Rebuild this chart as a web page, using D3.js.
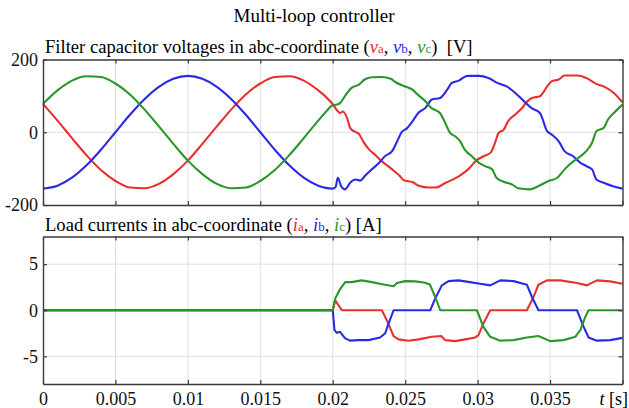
<!DOCTYPE html>
<html>
<head>
<meta charset="utf-8">
<script src="https://cdn.jsdelivr.net/npm/d3@7"></script>
<style>
  body { margin: 0; background: #fff; }
  text { font-family: "Liberation Serif", "DejaVu Serif", serif; }
</style>
</head>
<body>
<script>
// Time ticks shared by both panels
const timeTicks = [0, 0.005, 0.01, 0.015, 0.02, 0.025, 0.03, 0.035, 0.04]
const voltTicks = [-200, 0, 200]
const currTicks = [-5, 0, 5]

// Filter capacitor voltages [t, v]
const vaPts = [[0,78],[0.001,32],[0.002,-16],[0.003,-63],[0.004,-104],[0.005,-134],[0.006,-152],[0.007,-154],
  [0.008,-142],[0.009,-115],[0.010,-78],[0.011,-32],[0.012,16],[0.013,63],[0.014,104],[0.015,134],[0.016,152],
  [0.017,154],[0.018,142],[0.019,115],[0.0195,98],[0.02,77],[0.0203,60],[0.0205,53],[0.0207,57],[0.021,38],
  [0.0212,12],[0.02155,1],[0.0218,-4],[0.0221,-25],[0.0225,-47],[0.0229,-61],[0.0234,-80],[0.0241,-102],
  [0.02465,-121],[0.0249,-132],[0.0255,-137],[0.026,-148],[0.0266,-152],[0.0271,-152],[0.0278,-139],
  [0.02845,-127],[0.0289,-116],[0.0294,-100],[0.0299,-78],[0.0304,-66],[0.0309,-56],[0.0312,-29],[0.03145,-2],
  [0.0318,7],[0.0321,30],[0.0326,49],[0.0331,68],[0.0334,84],[0.03375,94],[0.0343,99],[0.0348,126],[0.0351,140],
  [0.0356,145],[0.036,156],[0.0369,156],[0.0375,149],[0.0382,133],[0.0388,124],[0.0394,108],[0.04,82]]

const vbPts = [[0,-155],[0.001,-147],[0.002,-125],[0.003,-91],[0.004,-48],[0.005,0],[0.006,48],[0.007,91],
  [0.008,125],[0.009,147],[0.010,155],[0.011,147],[0.012,125],[0.013,91],[0.014,48],[0.015,0],[0.016,-48],
  [0.017,-91],[0.018,-125],[0.019,-147],[0.0195,-153],[0.02,-155],[0.0202,-150],[0.02035,-125],[0.0206,-150],
  [0.02086,-157],[0.0212,-139],[0.02155,-130],[0.0219,-133],[0.0222,-121],[0.0227,-102],[0.0232,-84],
  [0.0236,-66],[0.0241,-52],[0.0244,-29],[0.02477,1],[0.0251,10],[0.0255,30],[0.0259,53],[0.0264,67],
  [0.02684,90],[0.0274,94],[0.0279,117],[0.0282,135],[0.0287,142],[0.0293,155],[0.0301,155],[0.03075,149],
  [0.0314,135],[0.032,126],[0.0326,108],[0.0332,85],[0.0337,67],[0.0343,53],[0.0348,3],[0.0351,-6],
  [0.0356,-25],[0.036,-52],[0.0366,-66],[0.0371,-84],[0.0375,-93],[0.0379,-102],[0.0382,-130],[0.0387,-139],
  [0.0393,-148],[0.04,-155]]

const vcPts = [[0,78],[0.001,115],[0.002,142],[0.003,154],[0.004,152],[0.005,134],[0.006,104],[0.007,63],
  [0.008,16],[0.009,-32],[0.010,-78],[0.011,-115],[0.012,-142],[0.013,-154],[0.014,-152],[0.015,-134],
  [0.016,-104],[0.017,-63],[0.018,-16],[0.019,32],[0.0195,55],[0.02,74],[0.0203,76],[0.0205,80],[0.0209,103],
  [0.0213,122],[0.0218,131],[0.0222,145],[0.0227,151],[0.0234,152],[0.024,147],[0.0244,136],[0.025,126],
  [0.0255,117],[0.0259,102],[0.0264,85],[0.0268,67],[0.0274,53],[0.02776,26],[0.0281,-2],[0.02845,-11],
  [0.0288,-25],[0.0291,-47],[0.0296,-66],[0.0301,-84],[0.0305,-93],[0.031,-102],[0.0313,-125],[0.0318,-136],
  [0.0324,-144],[0.0328,-154],[0.0336,-157],[0.0342,-148],[0.0349,-134],[0.0355,-125],[0.036,-102],
  [0.0366,-80],[0.0371,-66],[0.0375,-52],[0.0379,-29],[0.0382,3],[0.0387,12],[0.039,35],[0.0394,53],[0.04,76]]

// Load currents [t, i]
const iaPts = [[0,0],[0.02,0],[0.02017,1.08],[0.02063,0],[0.02339,0],[0.02373,-1.08],[0.0242,-2.8],
  [0.02454,-3.16],[0.02523,-3.3],[0.02592,-3.16],[0.02684,-2.88],[0.02749,-2.8],[0.02776,-3.24],[0.02845,-3.35],
  [0.02914,-3.16],[0.02983,-2.95],[0.03006,-2.7],[0.0304,-1.44],[0.03087,0],[0.0334,0],[0.03386,1.44],
  [0.0342,2.77],[0.03478,3.24],[0.0357,3.24],[0.03686,2.95],[0.03754,2.7],[0.03823,3.24],[0.03915,3.13],[0.04,2.88]]

const ibPts = [[0,0],[0.02,0],[0.02012,-2.16],[0.02028,-2.45],[0.0205,-2.34],[0.02086,-3.05],[0.0212,-3.3],
  [0.02178,-3.24],[0.02247,-3.24],[0.02327,-2.95],[0.02362,-2.5],[0.02385,-1.44],[0.0242,0],[0.02673,0],
  [0.02707,1.26],[0.02753,2.7],[0.02799,3.16],[0.02868,3.24],[0.02946,3.05],[0.03017,2.88],[0.03087,2.7],
  [0.03156,3.24],[0.03248,3.16],[0.0334,2.77],[0.03375,1.44],[0.0342,0],[0.03686,0],[0.03732,-1.8],
  [0.03766,-2.95],[0.03823,-3.3],[0.03915,-3.24],[0.04,-3.0]]

const icPts = [[0,0],[0.02,0],[0.02017,1.26],[0.02051,2.3],[0.02086,3.05],[0.0213,3.05],[0.022,3.24],
  [0.0227,3.05],[0.0235,2.8],[0.0242,2.6],[0.02443,2.95],[0.025,3.16],[0.0257,3.13],[0.02638,2.98],
  [0.0267,2.8],[0.02707,1.44],[0.02742,0],[0.02995,0],[0.0304,-1.8],[0.03087,-2.88],[0.03156,-3.3],
  [0.03248,-3.24],[0.0334,-2.95],[0.0342,-2.8],[0.03501,-3.35],[0.03593,-3.24],[0.03674,-2.88],[0.03709,-2.16],
  [0.03743,-0.72],[0.03766,0],[0.04,0]]

const colors = { a: "#e8302f", b: "#2a2ae6", c: "#2b962b" }
const serif = '"Liberation Serif", "DejaVu Serif", serif'

const svg = d3.select("body").append("svg")
    .attr("width", 629)
    .attr("height", 408)

const x = d3.scaleLinear().domain([0, 0.04]).range([43, 622.5])
const yV = d3.scaleLinear().domain([-200, 200]).range([205, 59.5])
const yI = d3.scaleLinear().domain([-8, 8]).range([384, 236.5])

// Main title
svg.append("text")
    .attr("x", 314).attr("y", 22)
    .attr("text-anchor", "middle")
    .attr("font-size", 19)
    .text("Multi-loop controller")

const drawPanel = (y, yTicks, series, curve, showX) => {
    const g = svg.append("g")
    const [y0, y1] = y.range()

    // grid
    g.selectAll(".vgrid").data(timeTicks.slice(1, -1)).enter().append("line")
        .attr("x1", d => x(d)).attr("x2", d => x(d))
        .attr("y1", y1).attr("y2", y0)
        .attr("stroke", "#dedede").attr("stroke-width", 1)
    g.selectAll(".hgrid").data(yTicks.filter(d => y(d) > y1 + 1 && y(d) < y0 - 1)).enter().append("line")
        .attr("x1", x(0)).attr("x2", x(0.04))
        .attr("y1", d => y(d)).attr("y2", d => y(d))
        .attr("stroke", "#dedede").attr("stroke-width", 1)

    // lines
    const line = d3.line().x(d => x(d[0])).y(d => y(d[1])).curve(curve)
    series.forEach(s => {
        g.append("path")
            .attr("d", line(s.pts))
            .attr("fill", "none")
            .attr("stroke", s.color)
            .attr("stroke-width", 2.1)
            .attr("stroke-linejoin", "round")
    })

    // axes, ticks pointing inward
    const axB = g.append("g").attr("transform", `translate(0,${y0})`)
        .call(d3.axisBottom(x).tickValues(timeTicks).tickSizeInner(-4).tickSizeOuter(0)
            .tickPadding(8).tickFormat(d => (showX && d < 0.04) ? String(d) : ""))
    const axT = g.append("g").attr("transform", `translate(0,${y1})`)
        .call(d3.axisTop(x).tickValues(timeTicks).tickSizeInner(-4).tickSizeOuter(0).tickFormat(""))
    const axL = g.append("g").attr("transform", `translate(${x(0)},0)`)
        .call(d3.axisLeft(y).tickValues(yTicks).tickSizeInner(-4).tickSizeOuter(0)
            .tickPadding(5).tickFormat(d => String(d)))
    const axR = g.append("g").attr("transform", `translate(${x(0.04)},0)`)
        .call(d3.axisRight(y).tickValues(yTicks).tickSizeInner(-4).tickSizeOuter(0).tickFormat(""))

    ;[axB, axT, axL, axR].forEach(a => {
        a.attr("font-family", serif).attr("font-size", 18)
        a.select(".domain").attr("stroke", "#3a3a3a").attr("stroke-width", 1.4)
        a.selectAll(".tick line").attr("stroke", "#3a3a3a").attr("stroke-width", 1.2)
        a.selectAll("text").attr("fill", "#111")
    })
    return g
}

drawPanel(yV, voltTicks, [
    { pts: vaPts, color: colors.a },
    { pts: vbPts, color: colors.b },
    { pts: vcPts, color: colors.c },
], d3.curveMonotoneX, false)

drawPanel(yI, currTicks, [
    { pts: iaPts, color: colors.a },
    { pts: ibPts, color: colors.b },
    { pts: icPts, color: colors.c },
], d3.curveLinear, true)

// time axis label
const tl = svg.append("text")
    .attr("x", 628).attr("y", 405)
    .attr("text-anchor", "end")
    .attr("font-size", 18)
tl.append("tspan").attr("font-style", "italic").text("t")
tl.append("tspan").text(" [s]")

// Panel titles with coloured symbols
const addTitle = (yPos, lead, sym, tail) => {
    const t = svg.append("text")
        .attr("x", 45).attr("y", yPos)
        .attr("font-size", 18.6)
        .style("white-space", "pre")
    t.append("tspan").text(lead)
    ;["a", "b", "c"].forEach((k, i) => {
        t.append("tspan").attr("font-style", "italic").attr("fill", colors[k]).text(sym)
        t.append("tspan").attr("fill", colors[k]).attr("font-size", 13).text(k)
        if (i < 2) t.append("tspan").text(", ")
    })
    t.append("tspan").text(tail)
}

addTitle(53, "Filter capacitor voltages in abc-coordinate (", "v", ")  [V]")
addTitle(231, "Load currents in abc-coordinate (", "i", ") [A]")
</script>
</body>
</html>
